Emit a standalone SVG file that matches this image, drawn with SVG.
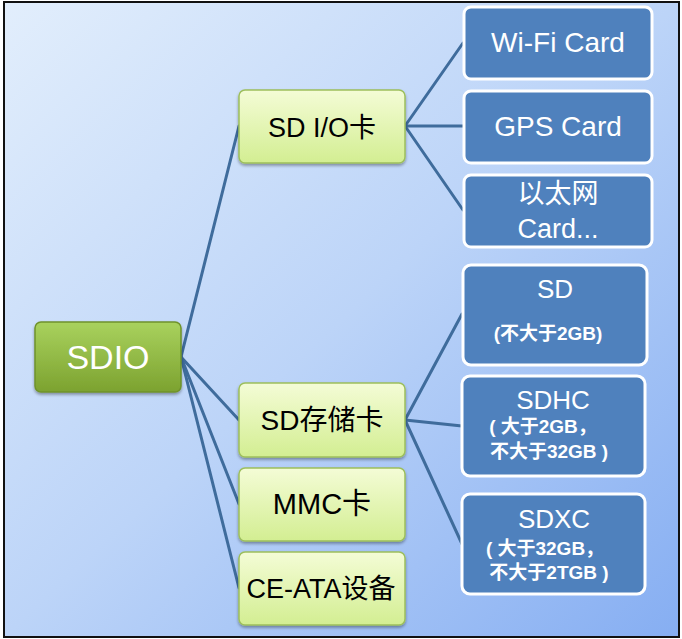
<svg xmlns="http://www.w3.org/2000/svg" width="682" height="639" viewBox="0 0 682 639">
<defs>
  <linearGradient id="bg" x1="0" y1="0" x2="1" y2="1">
    <stop offset="0" stop-color="#e2eefc"/>
    <stop offset="0.5" stop-color="#bcd4f8"/>
    <stop offset="1" stop-color="#86aef2"/>
  </linearGradient>
  <linearGradient id="gDark" x1="0" y1="0" x2="0" y2="1">
    <stop offset="0" stop-color="#a9d25e"/>
    <stop offset="1" stop-color="#7ca22f"/>
  </linearGradient>
  <linearGradient id="gLight" x1="0" y1="0" x2="0" y2="1">
    <stop offset="0" stop-color="#f4fcd6"/>
    <stop offset="1" stop-color="#d3ee92"/>
  </linearGradient>
  <filter id="sh" x="-10%" y="-10%" width="120%" height="130%">
    <feDropShadow dx="0" dy="2" stdDeviation="1.5" flood-color="#000" flood-opacity="0.35"/>
  </filter>
  <style>
    .lvl1 { fill: url(#gDark); stroke: #6f922b; stroke-width: 1.5; }
    .lvl2 { fill: url(#gLight); stroke: #9dbf5c; stroke-width: 1.5; }
    .leaf { fill: #4f81bd; stroke: #ffffff; stroke-width: 3; }
    .t { font-family: "Liberation Sans", "Noto Sans CJK SC", sans-serif; text-anchor: middle; }
    .tw { fill: #ffffff; }
    .tb { fill: #000000; }
    .bold { font-weight: bold; }
    .conn { stroke: #3f6c9c; stroke-width: 3; fill: none; stroke-linecap: round; }
  </style>
</defs>
<rect x="4" y="2" width="675" height="635" fill="url(#bg)" stroke="#111" stroke-width="2"/>

<g id="connectors">
  <line class="conn" x1="181" y1="357" x2="239" y2="126"/>
  <line class="conn" x1="181" y1="357" x2="239" y2="420"/>
  <line class="conn" x1="181" y1="357" x2="239" y2="504"/>
  <line class="conn" x1="181" y1="357" x2="239" y2="588"/>
  <line class="conn" x1="405" y1="126" x2="463" y2="43"/>
  <line class="conn" x1="405" y1="126" x2="463" y2="126"/>
  <line class="conn" x1="405" y1="126" x2="463" y2="210"/>
  <line class="conn" x1="405" y1="420" x2="462" y2="314"/>
  <line class="conn" x1="405" y1="420" x2="462" y2="426"/>
  <line class="conn" x1="405" y1="420" x2="462" y2="544"/>
</g>

<g id="sdio">
  <rect class="lvl1" x="35" y="322" width="146" height="70" rx="6" filter="url(#sh)"/>
  <text class="t tw" x="108" y="369" font-size="34">SDIO</text>
</g>

<g id="sdio-card">
  <rect class="lvl2" x="239" y="90" width="166" height="73" rx="6" filter="url(#sh)"/>
  <text class="t tb" x="322" y="137" font-size="27">SD I/O卡</text>
</g>
<g id="sd-storage">
  <rect class="lvl2" x="239" y="383" width="166" height="74" rx="6" filter="url(#sh)"/>
  <text class="t tb" x="322" y="430" font-size="28">SD存储卡</text>
</g>
<g id="mmc">
  <rect class="lvl2" x="239" y="468" width="166" height="73" rx="6" filter="url(#sh)"/>
  <text class="t tb" x="322" y="514" font-size="29">MMC卡</text>
</g>
<g id="ce-ata">
  <rect class="lvl2" x="239" y="552" width="166" height="73" rx="6" filter="url(#sh)"/>
  <text class="t tb" x="321" y="598" font-size="27">CE-ATA设备</text>
</g>

<g id="wifi">
  <rect class="leaf" x="464" y="7" width="188" height="72" rx="7"/>
  <text class="t tw" x="558" y="52" font-size="28">Wi-Fi Card</text>
</g>
<g id="gps">
  <rect class="leaf" x="464" y="91" width="188" height="72" rx="7"/>
  <text class="t tw" x="558" y="136" font-size="28">GPS Card</text>
</g>
<g id="ethernet">
  <rect class="leaf" x="464" y="175" width="188" height="72" rx="7"/>
  <text class="t tw" x="558" y="203" font-size="27">以太网</text>
  <text class="t tw" x="558" y="238" font-size="27">Card...</text>
</g>
<g id="sd">
  <rect class="leaf" x="463" y="265" width="184" height="100" rx="8"/>
  <text class="t tw" x="555" y="298" font-size="26">SD</text>
  <text class="t tw bold" x="548" y="340" font-size="19">(不大于2GB)</text>
</g>
<g id="sdhc">
  <rect class="leaf" x="462" y="376" width="183" height="100" rx="8"/>
  <text class="t tw" x="553" y="409" font-size="26">SDHC</text>
  <text class="t tw bold" x="543" y="433" font-size="19">( 大于2GB，</text>
  <text class="t tw bold" x="549" y="458" font-size="19">不大于32GB )</text>
</g>
<g id="sdxc">
  <rect class="leaf" x="462" y="494" width="183" height="100" rx="8"/>
  <text class="t tw" x="554" y="528" font-size="26">SDXC</text>
  <text class="t tw bold" x="545" y="555" font-size="19">( 大于32GB，</text>
  <text class="t tw bold" x="549" y="579" font-size="19">不大于2TGB )</text>
</g>
</svg>
